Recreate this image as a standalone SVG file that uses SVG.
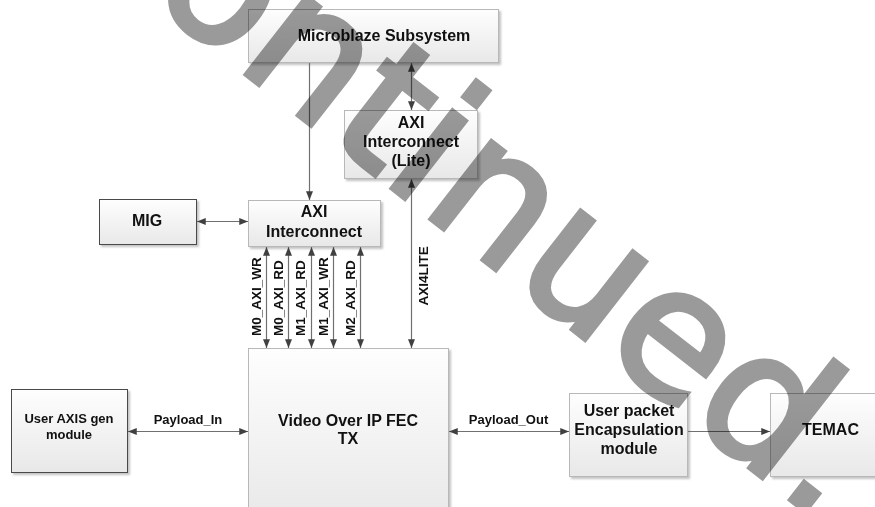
<svg xmlns="http://www.w3.org/2000/svg" width="875" height="507" viewBox="0 0 875 507">
<style>
text{font-family:"Liberation Sans",Arial,sans-serif;font-weight:bold;fill:#111}
.t16{font-size:16px;text-anchor:middle}
.t13{font-size:13px;text-anchor:middle}
.bus{font-size:13.5px;text-anchor:start}
.box{fill:url(#g);stroke:#b8b8b8;stroke-width:1;filter:url(#sh)}
.dark{stroke:#4a4a4a}
.ln{stroke:#707070;stroke-width:1.2;fill:none}
.both{marker-start:url(#ah);marker-end:url(#ah)}
.end{marker-end:url(#ah)}
.wm{font-family:"DejaVu Sans",sans-serif;font-weight:normal;font-size:180px;fill:#9a9a9a;stroke:#9a9a9a;stroke-width:5;mix-blend-mode:multiply}
</style>
<defs>
<linearGradient id="g" x1="0" y1="0" x2="0" y2="1">
<stop offset="0" stop-color="#fefefe"/>
<stop offset="1" stop-color="#e8e8e8"/>
</linearGradient>
<filter id="sh" x="-5%" y="-5%" width="115%" height="120%">
<feDropShadow dx="2" dy="2" stdDeviation="1" flood-color="#9a9a9a" flood-opacity="0.6"/>
</filter>
<marker id="ah" viewBox="0 0 10 8" refX="10" refY="4" markerWidth="9" markerHeight="7" markerUnits="userSpaceOnUse" orient="auto-start-reverse">
<path d="M0,0 L10,4 L0,8 z" fill="#404040"/>
</marker>
</defs>
<rect width="875" height="507" fill="#fff"/>

<g id="microblaze">
<rect class="box" x="248.5" y="9.5" width="250" height="53"/>
<text class="t16" x="384" y="41">Microblaze Subsystem</text>
</g>
<g id="axi-lite">
<rect class="box" x="344.5" y="110.5" width="133" height="68"/>
<text class="t16" x="411" y="128">AXI</text>
<text class="t16" x="411" y="147">Interconnect</text>
<text class="t16" x="411" y="166">(Lite)</text>
</g>
<g id="axi-interconnect">
<rect class="box" x="248.5" y="200.5" width="132" height="46"/>
<text class="t16" x="314" y="217">AXI</text>
<text class="t16" x="314" y="237">Interconnect</text>
</g>
<g id="mig">
<rect class="box dark" x="99.5" y="199.5" width="97" height="45"/>
<text class="t16" x="147" y="226">MIG</text>
</g>
<g id="video-fec">
<rect class="box" x="248.5" y="348.5" width="200" height="175"/>
<text class="t16" x="348" y="425.5">Video Over IP FEC</text>
<text class="t16" x="348" y="444">TX</text>
</g>
<g id="user-axis">
<rect class="box dark" x="11.5" y="389.5" width="116" height="83"/>
<text class="t13" x="69" y="423">User AXIS gen</text>
<text class="t13" x="69" y="439">module</text>
</g>
<g id="user-packet">
<rect class="box" x="569.5" y="393.5" width="118" height="83"/>
<text class="t16" x="629" y="416">User packet</text>
<text class="t16" x="629" y="435">Encapsulation</text>
<text class="t16" x="629" y="454">module</text>
</g>
<g id="temac">
<rect class="box" x="770.5" y="393.5" width="121" height="83"/>
<text class="t16" x="830.5" y="435">TEMAC</text>
</g>

<g id="connectors">
<line class="ln end" x1="309.5" y1="63" x2="309.5" y2="200"/>
<line class="ln both" x1="411.5" y1="63" x2="411.5" y2="110"/>
<line class="ln both" x1="411.5" y1="179" x2="411.5" y2="348"/>
<line class="ln both" x1="197" y1="221.5" x2="248" y2="221.5"/>
<line class="ln both" x1="266.5" y1="247" x2="266.5" y2="348"/>
<line class="ln both" x1="288.5" y1="247" x2="288.5" y2="348"/>
<line class="ln both" x1="311.5" y1="247" x2="311.5" y2="348"/>
<line class="ln both" x1="333.5" y1="247" x2="333.5" y2="348"/>
<line class="ln both" x1="360.5" y1="247" x2="360.5" y2="348"/>
<line class="ln both" x1="128" y1="431.5" x2="248" y2="431.5"/>
<line class="ln both" x1="449" y1="431.5" x2="569" y2="431.5"/>
<line class="ln end" x1="688" y1="431.5" x2="770" y2="431.5"/>
<text class="bus" transform="translate(260.5,336) rotate(-90)">M0_AXI_WR</text>
<text class="bus" transform="translate(282.5,336) rotate(-90)">M0_AXI_RD</text>
<text class="bus" transform="translate(304.5,336) rotate(-90)">M1_AXI_RD</text>
<text class="bus" transform="translate(327.5,336) rotate(-90)">M1_AXI_WR</text>
<text class="bus" transform="translate(354.5,336) rotate(-90)">M2_AXI_RD</text>
<text class="bus" transform="translate(428,305.5) rotate(-90)">AXI4LITE</text>
<text class="t13" x="188" y="423.5">Payload_In</text>
<text class="t13" x="508.5" y="423.5">Payload_Out</text>
</g>

<g id="watermark">
<text class="wm" transform="translate(68.4,-64.3) rotate(38)">continued.</text>
</g>
</svg>
